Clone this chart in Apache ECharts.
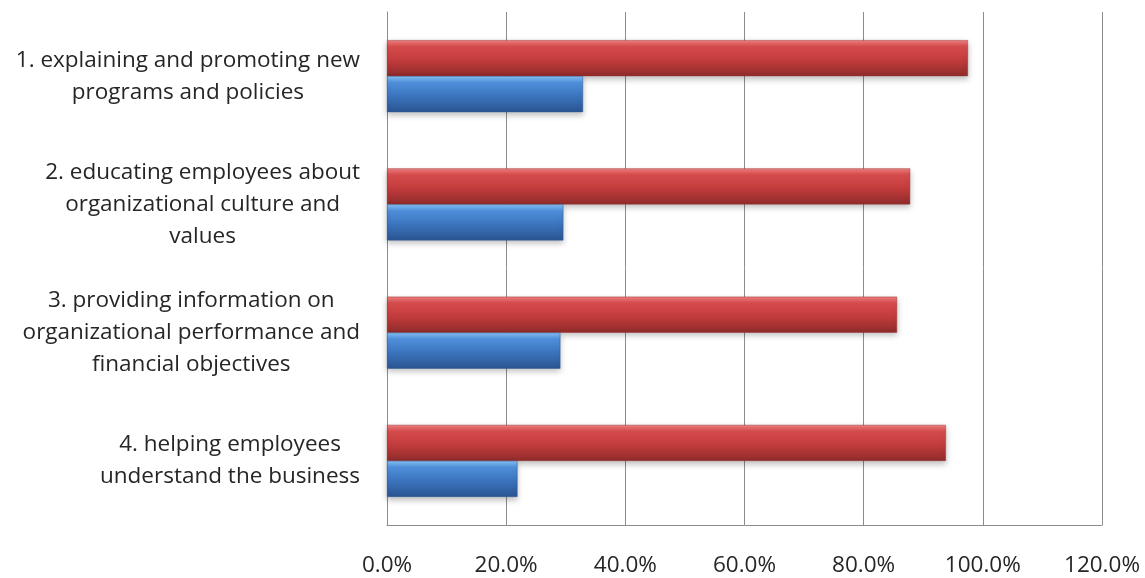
<!DOCTYPE html>
<html>
<head>
<meta charset="utf-8">
<script src="https://cdn.jsdelivr.net/npm/echarts@6/dist/echarts.min.js"></script>
<style>
    html, body { margin: 0; padding: 0; background: #fff; }
    #chart { width: 1145px; height: 578px; }
</style>
</head>
<body>
<div id="chart"></div>
<script>
    // 数据
    var categories = [
      '1. explaining and promoting new\nprograms and policies',
      '2. educating employees about\norganizational culture and\nvalues',
      '3. providing information on\norganizational performance and\nfinancial objectives',
      '4. helping employees\nunderstand the business'
    ];
    var redValues = [97.5, 87.8, 85.6, 93.8];
    var blueValues = [32.9, 29.6, 29.1, 21.9];
    var xTicks = [0, 20, 40, 60, 80, 100, 120];

    var myChart = echarts.init(document.getElementById('chart'));

    function grad(c0, c1, c2, c3) {
      return new echarts.graphic.LinearGradient(0, 0, 0, 1, [
        {offset: 0, color: c0},
        {offset: 0.18, color: c1},
        {offset: 0.55, color: c2},
        {offset: 1, color: c3}
      ]);
    }

    var option = {
      backgroundColor: '#fff',
      animation: false,
      grid: {
        left: 387,
        right: 43,
        top: 12,
        bottom: 53
      },
      xAxis: {
        type: 'value',
        min: xTicks[0],
        max: xTicks[xTicks.length - 1],
        interval: 20,
        axisLine: {show: true, lineStyle: {color: '#8c8c8c', width: 1}},
        axisTick: {show: false},
        splitLine: {show: true, lineStyle: {color: '#8c8c8c', width: 1}},
        axisLabel: {
          margin: 29,
          fontFamily: 'Open Sans',
          fontSize: 22.5,
          color: '#262626',
          formatter: function (v) { return v.toFixed(1) + '%'; }
        }
      },
      yAxis: {
        type: 'category',
        inverse: true,
        data: categories,
        axisLine: {show: true, lineStyle: {color: '#8c8c8c', width: 1}},
        axisTick: {show: false},
        axisLabel: {
          margin: 27,
          fontFamily: 'Open Sans',
          fontSize: 22.5,
          lineHeight: 32,
          color: '#262626',
          formatter: function (v) {
            return v.split('\n').map(function (s) { return '{c|' + s + '}'; }).join('\n');
          },
          rich: {
            c: {align: 'center', fontFamily: 'Open Sans', fontSize: 22.5, lineHeight: 32, color: '#262626'}
          }
        }
      },
      series: [
        {
          name: 'red',
          type: 'bar',
          data: redValues,
          barWidth: 36,
          barGap: '0%',
          itemStyle: {
            color: grad('#F08080', '#D64C4C', '#C33C3C', '#8F2B2B'),
            borderColor: '#9a3030',
            borderWidth: 0.5,
            shadowColor: 'rgba(0,0,0,0.25)',
            shadowBlur: 6,
            shadowOffsetY: 3
          }
        },
        {
          name: 'blue',
          type: 'bar',
          data: blueValues,
          barWidth: 36,
          barGap: '0%',
          itemStyle: {
            color: grad('#86C1F5', '#4F90DB', '#3C74BE', '#2A5591'),
            borderColor: '#2d5a94',
            borderWidth: 0.5,
            shadowColor: 'rgba(0,0,0,0.25)',
            shadowBlur: 6,
            shadowOffsetY: 3
          }
        }
      ]
    };

    myChart.setOption(option);
</script>
</body>
</html>
